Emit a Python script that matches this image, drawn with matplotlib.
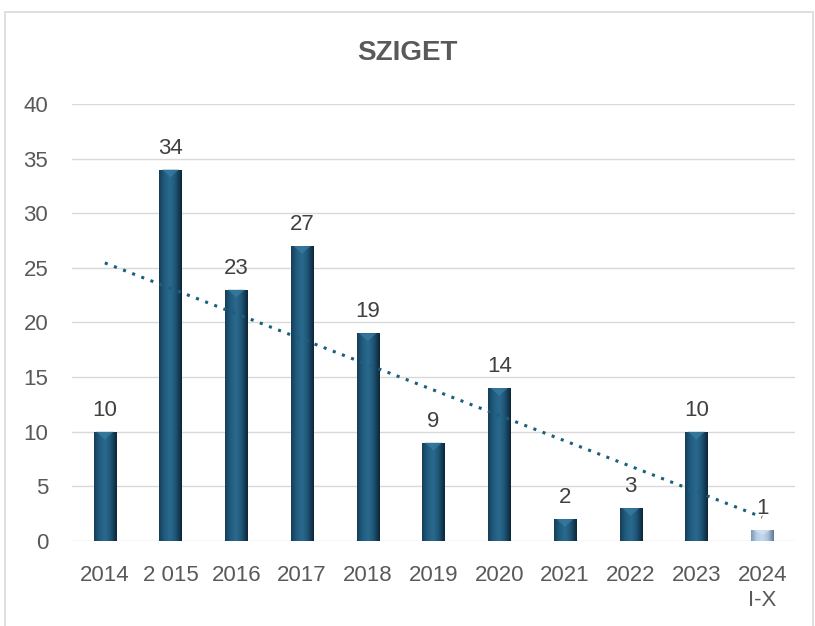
import numpy as np
import matplotlib.pyplot as plt
from matplotlib.colors import LinearSegmentedColormap
from matplotlib.patches import Rectangle, Polygon

# chart data
years = ["2014", "2 015", "2016", "2017", "2018", "2019", "2020", "2021", "2022", "2023", "2024\nI-X"]
counts = [10, 34, 23, 27, 19, 9, 14, 2, 3, 10, 1]
title = "SZIGET"

plt.rcParams['font.family'] = ['Liberation Sans', 'DejaVu Sans']
text_col = "#595959"

fig = plt.figure(figsize=(8.15, 6.26), dpi=100)
ax = fig.add_axes([0.0883, 0.1358, 0.8872, 0.6981])

x = np.arange(len(years))
bars = ax.bar(x, counts, width=0.34, color="#1c4f6e", zorder=2)

# fake bevel look: horizontal gradient clipped to every bar
dark = LinearSegmentedColormap.from_list("bev", ["#163f58", "#225d80", "#2a6a8e", "#1d5272", "#0c2637"])
light = LinearSegmentedColormap.from_list("bevl", ["#7f98b3", "#b7cde6", "#c4d7ee", "#a9c0da", "#5f7893"])
grad = np.linspace(0, 1, 64).reshape(1, -1)
for i, b in enumerate(bars):
    x0, w, h = b.get_x(), b.get_width(), b.get_height()
    cmap = light if i == len(bars) - 1 else dark
    im = ax.imshow(grad, extent=[x0, x0 + w, 0, h], aspect="auto", cmap=cmap, zorder=3)
    im.set_clip_path(b)
    # small triangle highlight at top of bar
    tri_h = min(0.7, h * 0.45)
    top_col = "#d4e2f2" if i == len(bars) - 1 else "#3b7da3"
    ax.add_patch(Polygon([[x0 + 0.04, h], [x0 + w - 0.04, h], [x0 + w / 2, h - tri_h]],
                         closed=True, color=top_col, alpha=0.7, zorder=4, lw=0))
    ax.text(x[i], h + 1.0, str(counts[i]), ha="center", va="bottom", fontsize=16, color="#404040")

# linear trendline
k, c = np.polyfit(x, counts, 1)
ax.plot(x, k * x + c, linestyle=(0, (1, 2.2)), color="#1b5e7d", lw=2.2, zorder=5)

ax.set_xlim(-0.5, len(years) - 0.5)
ax.set_ylim(0, 40)
ax.set_yticks(range(0, 41, 5))
ax.set_xticks(x)
ax.set_xticklabels(years, linespacing=1.25)
ax.tick_params(axis="both", length=0, labelsize=16, labelcolor=text_col)
ax.tick_params(axis="x", pad=17)
ax.tick_params(axis="y", pad=17)
ax.grid(axis="y", color="#d9d9d9", lw=1, zorder=0)
for s in ax.spines.values():
    s.set_visible(False)

fig.text(0.5, 0.915, title, ha="center", va="center", fontsize=20, fontweight="bold",
         color=text_col, family=['Liberation Sans Narrow', 'Liberation Sans', 'DejaVu Sans'])

# chart frame
fig.patches.append(Rectangle((0.006, -0.01), 0.991, 0.991, transform=fig.transFigure,
                             fill=False, edgecolor="#d9d9d9", lw=1.2))

fig.savefig("out.png", dpi=100)
